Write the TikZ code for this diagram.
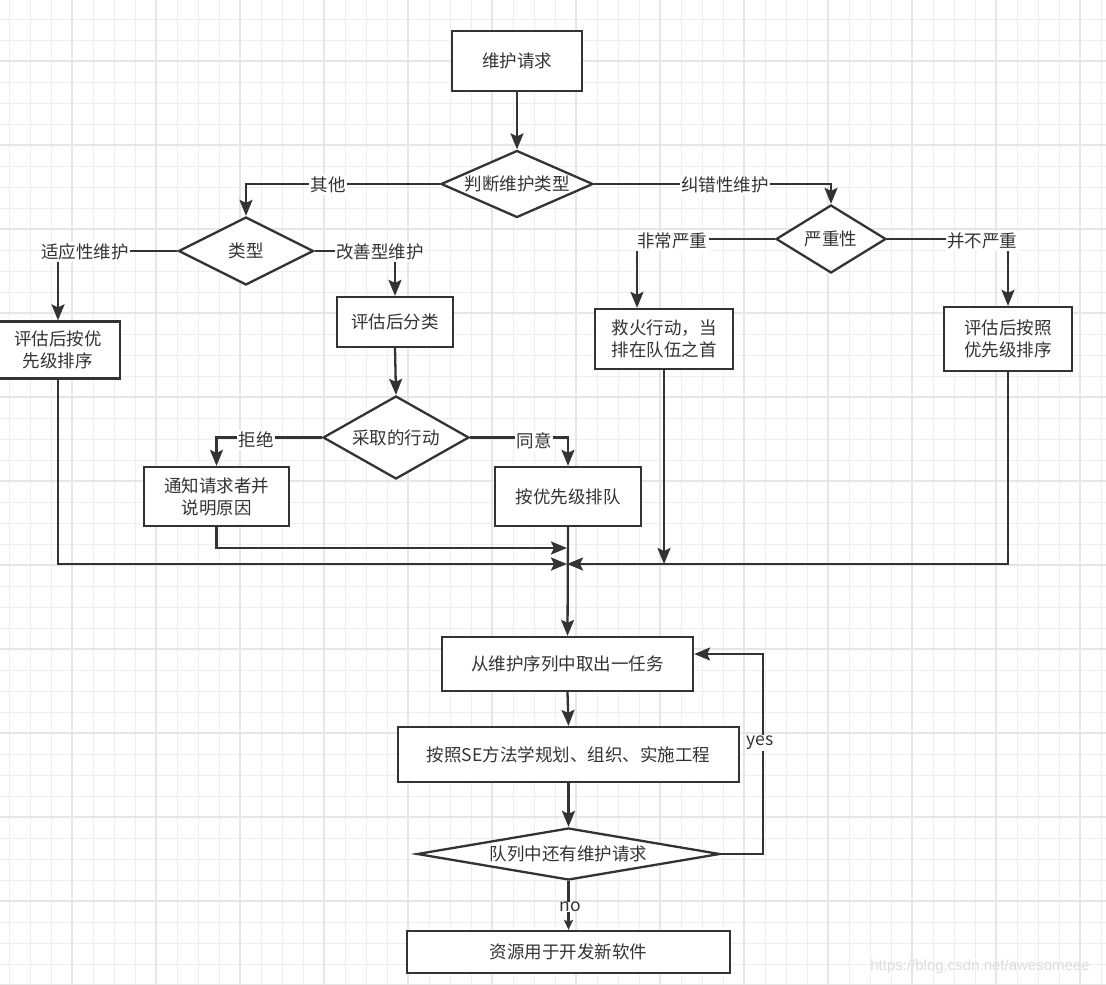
\documentclass[tikz,border=0pt]{standalone}
\usepackage{fontspec}
\setmainfont{Noto Sans CJK SC}
\newfontfamily\wmfont{Liberation Sans}
\usetikzlibrary{arrows.meta,shapes.geometric}
\definecolor{ink}{HTML}{333333}
\definecolor{gridminor}{HTML}{EEEEEE}
\definecolor{gridmajor}{HTML}{E6E6E6}
\definecolor{wm}{HTML}{DDDDDD}
\begin{document}
\begin{tikzpicture}[x=1pt,y=-1pt,
  font=\fontsize{17.5}{22}\selectfont,
  every node/.style={text=ink},
  box/.style={draw=ink, line width=2.3pt, fill=white, rectangle, inner sep=0pt, align=center},
  dia/.style={draw=ink, line width=2.3pt, fill=white, diamond, inner sep=0pt},
  conn/.style={draw=ink, line width=2.3pt},
  arr/.style={conn, -{Stealth[length=16pt,width=13pt,inset=3pt]}},
  lab/.style={fill=white, inner sep=1.5pt}]
\useasboundingbox (0,0) rectangle (1106,985);
\fill[white] (0,0) rectangle (1106,985);
% grid
\foreach \x in {9,30,...,1106} \draw[gridminor, line width=1pt] (\x,0) -- (\x,985);
\foreach \y in {19,40,...,985} \draw[gridminor, line width=1pt] (0,\y) -- (1106,\y);
\foreach \x in {72,156,...,1106} \draw[gridmajor, line width=1.6pt] (\x,0) -- (\x,985);
\foreach \y in {61,145,...,985} \draw[gridmajor, line width=1.6pt] (0,\y) -- (1106,\y);

% boxes
\node[box, minimum width=130pt, minimum height=60pt] (b0) at (517,61) {维护请求};
\node[box, minimum width=124pt, minimum height=57pt] (b1) at (58,350) {评估后按优\\先级排序};
\node[box, minimum width=116pt, minimum height=50pt] (b2) at (395,322) {评估后分类};
\node[box, minimum width=145pt, minimum height=59pt] (b3) at (216.5,496.5) {通知请求者并\\说明原因};
\node[box, minimum width=146pt, minimum height=59pt] (b4) at (568,496.5) {按优先级排队};
\node[box, minimum width=138pt, minimum height=60pt] (b5) at (664,339) {救火行动，当\\排在队伍之首};
\node[box, minimum width=128pt, minimum height=64pt] (b6) at (1008,339) {评估后按照\\优先级排序};
\node[box, minimum width=251pt, minimum height=54pt] (b7) at (567.5,664) {从维护序列中取出一任务};
\node[box, minimum width=341pt, minimum height=55pt] (b8) at (568.5,754.5) {按照SE方法学规划、组织、实施工程};
\node[box, minimum width=323pt, minimum height=42pt] (b9) at (568.5,952) {资源用于开发新软件};

% diamonds
\node[dia, minimum width=152pt, minimum height=67pt, label=center:判断维护类型] (d1) at (517,184) {};
\node[dia, minimum width=135pt, minimum height=68pt, label=center:类型] (d2) at (246,251) {};
\node[dia, minimum width=110pt, minimum height=68pt, label=center:严重性] (d3) at (831,239) {};
\node[dia, minimum width=146pt, minimum height=83pt, label=center:采取的行动] (d4) at (396,437.5) {};
\node[dia, minimum width=303pt, minimum height=52pt, label=center:队列中还有维护请求] (d5) at (568.5,854) {};

\coordinate (m) at (567,564);
\coordinate (m2) at (567,548);

% connectors
\draw[arr] (b0.south) -- (d1.north);
\draw[arr] (d1.west) -| (d2.north);
\draw[arr] (d1.east) -| (d3.north);
\draw[arr] (d2.west) -| (b1.north);
\draw[arr] (d2.east) -| (b2.north);
\draw[arr] (b2.south) -- (d4.north);
\draw[arr] (d4.west) -| (b3.north);
\draw[arr] (d4.east) -| (b4.north);
\draw[arr] (d3.west) -| ([xshift=-27pt]b5.north);
\draw[arr] (d3.east) -| (b6.north);
\draw[arr] (b1.south) |- (m);
\draw[arr] (b3.south) |- (m2);
\draw[arr] (b6.south) |- (m);
\draw[arr] (b5.south) -- (b5.south |- m);
\draw[arr] (b4.south) -- (b7.north);
\draw[arr] (b7.south) -- (b8.north);
\draw[arr] (b8.south) -- (d5.north);
\draw[arr] (d5.east) -- ++(42,0) |- ([yshift=10pt]b7.east);
\draw[conn, -{Stealth[length=10pt,width=9pt,inset=2pt]}] (d5.south) -- (b9.north);

% edge labels
\node[lab] (l1) at (328,185) {其他};
\node[lab] (l2) at (725,185) {纠错性维护};
\node[lab] (l3) at (85,252) {适应性维护};
\node[lab] (l4) at (380,252) {改善型维护};
\node[lab] (l5) at (256,440) {拒绝};
\node[lab] (l6) at (534,441) {同意};
\node[lab] (l7) at (672,241) {非常严重};
\node[lab] (l8) at (982,241) {并不严重};
\node[lab] (l9) at (760,743) {yes};
\node[lab, inner sep=0.5pt] (l10) at (570,907) {no};

% watermark
\node[text=wm, font=\wmfont\fontsize{15}{15}\selectfont] (wmk) at (980,967) {https://blog.csdn.net/awesomeee};
\end{tikzpicture}
\end{document}
